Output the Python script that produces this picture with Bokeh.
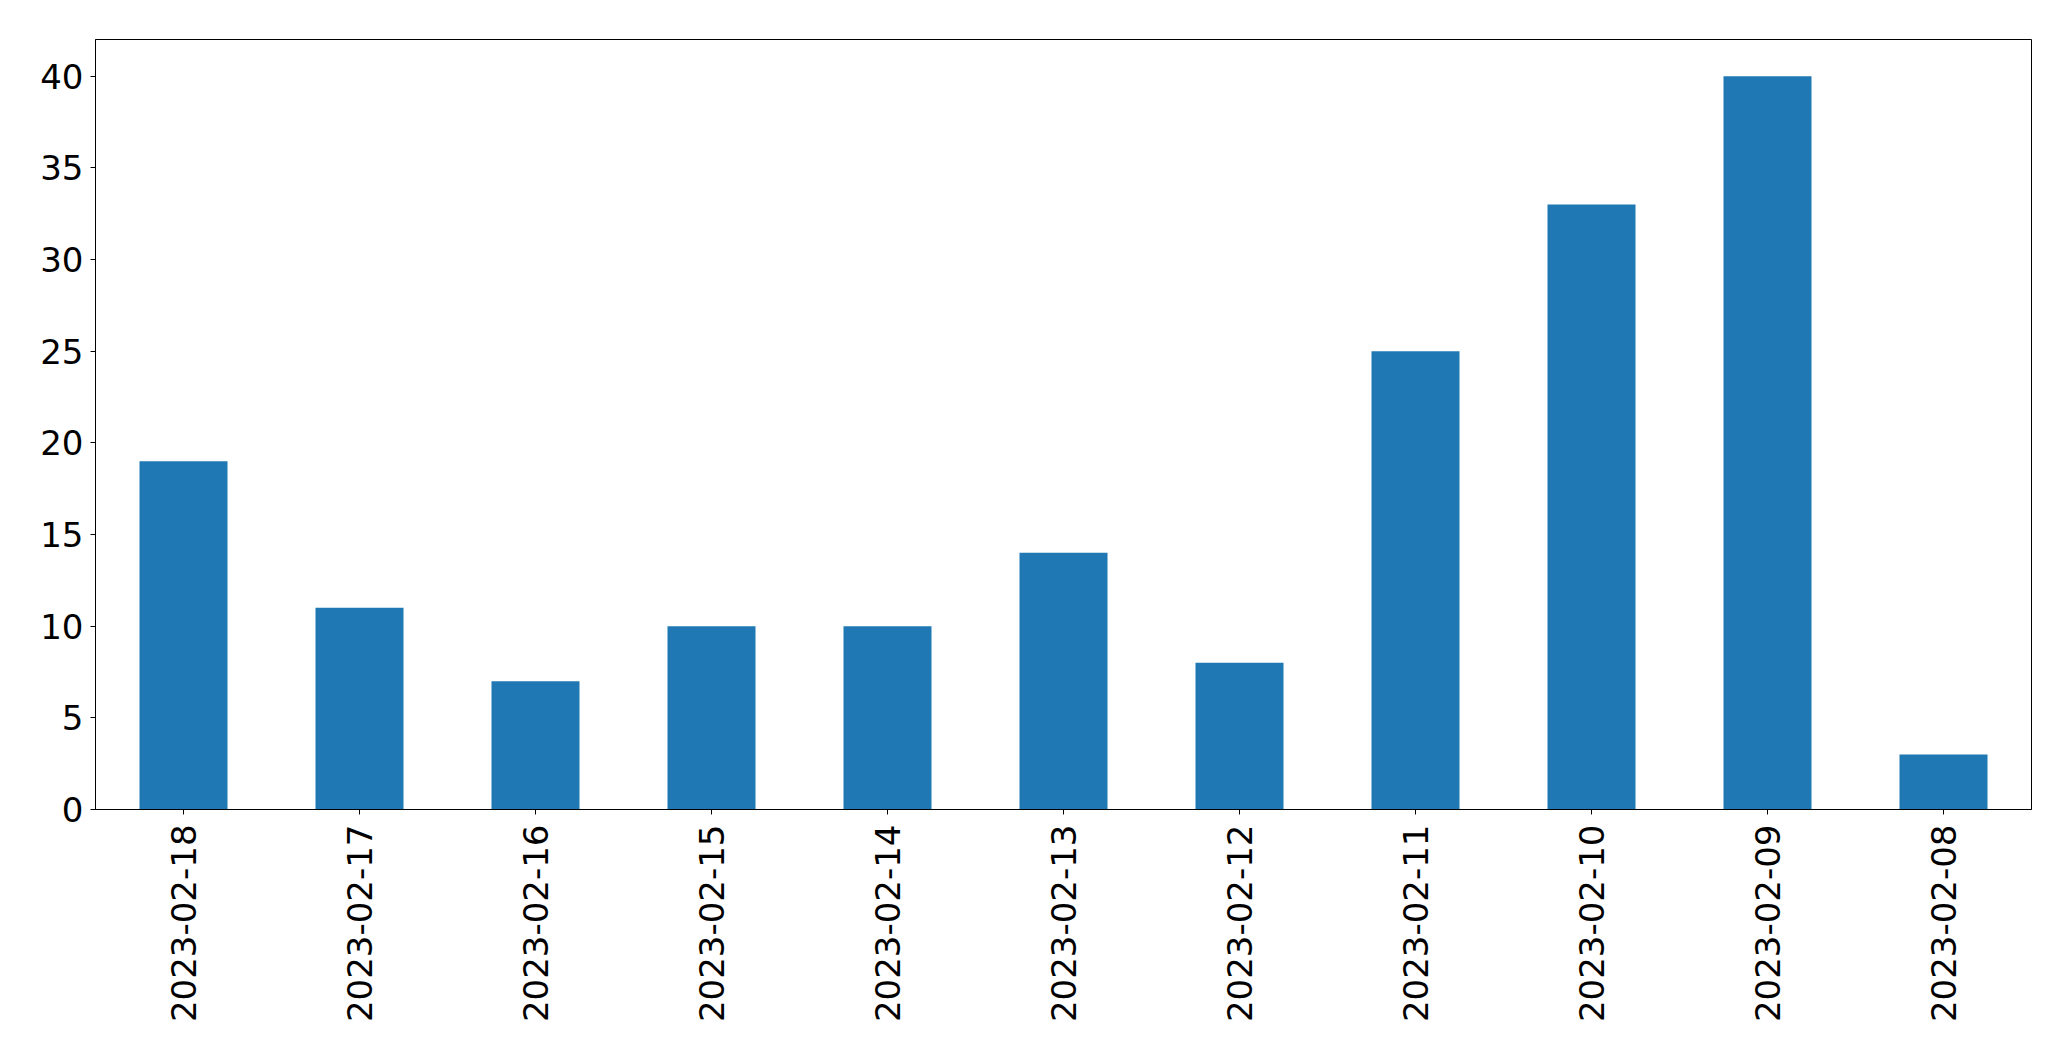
from bokeh.plotting import figure
from bokeh.models import FactorRange, Range1d, FixedTicker, ColumnDataSource
from bokeh.embed import file_html
from bokeh.resources import INLINE
import math

dates = ["2023-02-18", "2023-02-17", "2023-02-16", "2023-02-15", "2023-02-14",
         "2023-02-13", "2023-02-12", "2023-02-11", "2023-02-10", "2023-02-09",
         "2023-02-08"]
counts = [19, 11, 7, 10, 10, 14, 8, 25, 33, 40, 3]
y_ticks = [0, 5, 10, 15, 20, 25, 30, 35, 40]

source = ColumnDataSource(data=dict(date=dates, count=counts))

p = figure(width=2071, height=1061, x_range=FactorRange(*dates),
           y_range=Range1d(0, 42), output_backend="svg", toolbar_location=None,
           min_border_left=95, min_border_right=40, min_border_top=39,
           min_border_bottom=252)

p.vbar(x="date", top="count", width=0.5, bottom=0, source=source,
       fill_color="#1f77b4", line_color=None)

p.xgrid.visible = False
p.ygrid.visible = False
p.outline_line_color = "black"
p.outline_line_width = 1
p.outline_line_alpha = 1.0
p.background_fill_color = "white"
p.border_fill_color = "white"

for ax in (p.xaxis[0], p.yaxis[0]):
    ax.axis_line_color = "black"
    ax.major_tick_line_color = "black"
    ax.major_tick_out = 5
    ax.major_tick_in = 0
    ax.minor_tick_line_color = None
    ax.major_label_text_font = "DejaVu Sans"
    ax.major_label_text_font_size = "34px"
    ax.major_label_text_color = "black"

p.yaxis[0].ticker = FixedTicker(ticks=y_ticks)
p.yaxis[0].major_label_standoff = 7
p.xaxis[0].major_label_orientation = math.pi / 2
p.xaxis[0].major_label_standoff = 10
p.xaxis[0].group_text_font_size = "0px"

open("out.html", "w").write(file_html(p, INLINE))
